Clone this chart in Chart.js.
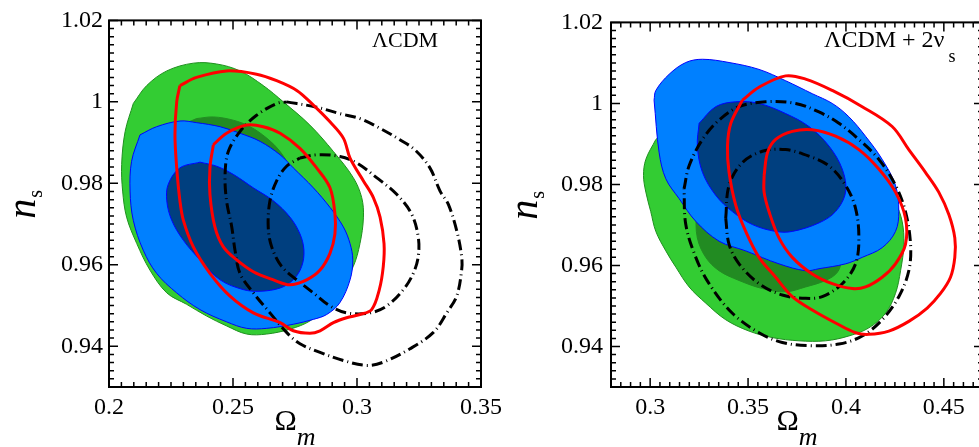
<!DOCTYPE html>
<html>
<head>
<meta charset="utf-8">
<script src="https://cdn.jsdelivr.net/npm/chart.js@4.4.0/dist/chart.umd.min.js"></script>
<style>
  body { margin: 0; background: #fff; overflow: hidden; width: 979px; height: 447px; position: relative; }
  canvas { position: absolute; top: 0; }
  #left { left: 0; }
  #right { left: 500px; }
</style>
</head>
<body>
<canvas id="left" width="520" height="447"></canvas>
<canvas id="right" width="500" height="447"></canvas>
<script>
// ---- axis ticks ----
const xTicksL = [0.2, 0.25, 0.3, 0.35];
const xTicksR = [0.3, 0.35, 0.4, 0.45];
const yTicks = [0.94, 0.96, 0.98, 1, 1.02];

// ---- LCDM panel: contours as [Omega_m, n_s] ----
const greenOuterL = [[0.2098,0.9996],[0.2152,1.0040],[0.2233,1.0076],[0.2340,1.0095],[0.2434,1.0093],[0.2528,1.0076],[0.2622,1.0040],[0.2703,1.0000],[0.2810,0.9943],[0.2905,0.9878],[0.2985,0.9814],[0.3019,0.9765],[0.3026,0.9717],[0.3012,0.9652],[0.2985,0.9596],[0.2931,0.9539],[0.2871,0.9495],[0.2810,0.9462],[0.2730,0.9442],[0.2636,0.9430],[0.2555,0.9430],[0.2474,0.9450],[0.2394,0.9474],[0.2313,0.9503],[0.2233,0.9531],[0.2165,0.9587],[0.2112,0.9652],[0.2071,0.9717],[0.2055,0.9781],[0.2051,0.9846],[0.2065,0.9927]];
const greenInnerL = [[0.2353,0.9959],[0.2421,0.9963],[0.2501,0.9955],[0.2569,0.9939],[0.2636,0.9911],[0.2690,0.9878],[0.2730,0.9838],[0.2770,0.9773],[0.2770,0.9684],[0.2703,0.9604],[0.2582,0.9563],[0.2421,0.9571],[0.2286,0.9620],[0.2206,0.9701],[0.2179,0.9798],[0.2206,0.9878],[0.2273,0.9935]];
const blueOuterL = [[0.2125,0.9919],[0.2192,0.9939],[0.2286,0.9953],[0.2353,0.9949],[0.2448,0.9939],[0.2528,0.9923],[0.2609,0.9903],[0.2690,0.9870],[0.2743,0.9838],[0.2824,0.9789],[0.2891,0.9741],[0.2945,0.9693],[0.2972,0.9652],[0.2983,0.9612],[0.2972,0.9563],[0.2931,0.9507],[0.2878,0.9478],[0.2824,0.9466],[0.2743,0.9454],[0.2636,0.9444],[0.2555,0.9444],[0.2474,0.9460],[0.2367,0.9490],[0.2273,0.9531],[0.2192,0.9579],[0.2138,0.9636],[0.2098,0.9709],[0.2085,0.9781],[0.2091,0.9854]];
const blueInnerL = [[0.2367,0.9852],[0.2286,0.9838],[0.2239,0.9798],[0.2233,0.9757],[0.2253,0.9709],[0.2300,0.9660],[0.2367,0.9612],[0.2448,0.9563],[0.2542,0.9539],[0.2609,0.9535],[0.2690,0.9543],[0.2743,0.9563],[0.2777,0.9596],[0.2786,0.9636],[0.2770,0.9676],[0.2730,0.9717],[0.2663,0.9757],[0.2582,0.9789],[0.2501,0.9822],[0.2434,0.9842]];
const redOuterL = [[0.2286,1.0040],[0.2353,1.0060],[0.2474,1.0076],[0.2595,1.0068],[0.2676,1.0052],[0.2757,1.0028],[0.2824,0.9992],[0.2891,0.9951],[0.2945,0.9911],[0.2972,0.9862],[0.3026,0.9806],[0.3066,0.9765],[0.3093,0.9717],[0.3109,0.9652],[0.3106,0.9596],[0.3090,0.9539],[0.3059,0.9490],[0.3012,0.9478],[0.2958,0.9470],[0.2905,0.9458],[0.2851,0.9438],[0.2810,0.9432],[0.2743,0.9438],[0.2690,0.9458],[0.2582,0.9482],[0.2488,0.9523],[0.2407,0.9579],[0.2340,0.9644],[0.2300,0.9709],[0.2286,0.9757],[0.2273,0.9838],[0.2266,0.9919],[0.2273,1.0000]];
const redInnerL = [[0.2421,0.9895],[0.2474,0.9923],[0.2555,0.9943],[0.2622,0.9939],[0.2690,0.9923],[0.2770,0.9886],[0.2837,0.9838],[0.2891,0.9789],[0.2911,0.9725],[0.2911,0.9676],[0.2891,0.9628],[0.2851,0.9587],[0.2797,0.9563],[0.2730,0.9551],[0.2663,0.9563],[0.2582,0.9583],[0.2515,0.9612],[0.2461,0.9644],[0.2427,0.9693],[0.2407,0.9773],[0.2407,0.9838]];
const blackOuterL = [[0.2716,1.0000],[0.2837,0.9987],[0.2931,0.9971],[0.3012,0.9959],[0.3093,0.9935],[0.3173,0.9907],[0.3234,0.9882],[0.3294,0.9838],[0.3335,0.9781],[0.3368,0.9749],[0.3402,0.9684],[0.3422,0.9620],[0.3422,0.9587],[0.3402,0.9523],[0.3362,0.9482],[0.3308,0.9434],[0.3214,0.9394],[0.3106,0.9361],[0.3039,0.9353],[0.2945,0.9365],[0.2851,0.9385],[0.2770,0.9406],[0.2716,0.9434],[0.2649,0.9482],[0.2582,0.9531],[0.2528,0.9579],[0.2508,0.9636],[0.2495,0.9693],[0.2474,0.9757],[0.2468,0.9822],[0.2481,0.9878],[0.2528,0.9927],[0.2595,0.9967],[0.2676,0.9996]];
const blackInnerL = [[0.2770,0.9862],[0.2837,0.9870],[0.2931,0.9866],[0.2999,0.9850],[0.3079,0.9814],[0.3160,0.9773],[0.3220,0.9725],[0.3247,0.9668],[0.3247,0.9620],[0.3227,0.9579],[0.3187,0.9539],[0.3120,0.9499],[0.3052,0.9482],[0.2958,0.9482],[0.2891,0.9499],[0.2824,0.9531],[0.2757,0.9563],[0.2696,0.9596],[0.2656,0.9644],[0.2642,0.9693],[0.2649,0.9757],[0.2676,0.9806],[0.2716,0.9842]];

// ---- LCDM + 2 nu_s panel ----
const greenOuterR = [[0.3029,0.9911],[0.2978,0.9862],[0.2966,0.9822],[0.2978,0.9781],[0.3003,0.9733],[0.3029,0.9684],[0.3080,0.9636],[0.3131,0.9596],[0.3199,0.9547],[0.3284,0.9507],[0.3386,0.9466],[0.3505,0.9438],[0.3624,0.9422],[0.3760,0.9414],[0.3896,0.9414],[0.4015,0.9426],[0.4117,0.9446],[0.4202,0.9482],[0.4253,0.9531],[0.4279,0.9587],[0.4296,0.9652],[0.4287,0.9709],[0.4253,0.9757],[0.4185,0.9830],[0.4015,0.9886],[0.3760,0.9935],[0.3505,0.9967],[0.3250,0.9959],[0.3114,0.9943]];
const greenInnerR = [[0.3233,0.9733],[0.3241,0.9668],[0.3284,0.9620],[0.3352,0.9587],[0.3454,0.9563],[0.3573,0.9543],[0.3692,0.9535],[0.3794,0.9547],[0.3896,0.9563],[0.3956,0.9583],[0.3973,0.9612],[0.3930,0.9668],[0.3845,0.9717],[0.3675,0.9757],[0.3505,0.9773],[0.3335,0.9765]];
const blueOuterR = [[0.3020,1.0008],[0.3029,1.0032],[0.3097,1.0072],[0.3182,1.0101],[0.3267,1.0109],[0.3403,1.0101],[0.3556,1.0084],[0.3692,1.0056],[0.3828,1.0024],[0.3930,1.0000],[0.4015,0.9967],[0.4100,0.9919],[0.4185,0.9862],[0.4253,0.9798],[0.4270,0.9733],[0.4253,0.9684],[0.4185,0.9644],[0.4083,0.9620],[0.3998,0.9604],[0.3862,0.9592],[0.3794,0.9587],[0.3658,0.9604],[0.3488,0.9636],[0.3352,0.9660],[0.3233,0.9709],[0.3148,0.9765],[0.3080,0.9814],[0.3046,0.9878]];
const blueInnerR = [[0.3250,0.9951],[0.3335,0.9992],[0.3437,1.0004],[0.3556,1.0000],[0.3692,0.9975],[0.3811,0.9943],[0.3913,0.9895],[0.3981,0.9838],[0.3998,0.9781],[0.3947,0.9733],[0.3862,0.9705],[0.3726,0.9684],[0.3641,0.9684],[0.3522,0.9701],[0.3420,0.9733],[0.3335,0.9773],[0.3267,0.9830],[0.3241,0.9895]];
const redOuterR = [[0.3471,1.0008],[0.3556,1.0040],[0.3692,1.0068],[0.3794,1.0060],[0.3930,1.0032],[0.4083,0.9992],[0.4236,0.9943],[0.4321,0.9886],[0.4406,0.9830],[0.4474,0.9781],[0.4526,0.9725],[0.4556,0.9668],[0.4556,0.9620],[0.4534,0.9571],[0.4483,0.9531],[0.4415,0.9495],[0.4321,0.9462],[0.4219,0.9438],[0.4117,0.9430],[0.4049,0.9434],[0.3947,0.9458],[0.3828,0.9490],[0.3726,0.9523],[0.3641,0.9571],[0.3556,0.9620],[0.3488,0.9684],[0.3437,0.9749],[0.3403,0.9830],[0.3395,0.9895],[0.3412,0.9951]];
const redInnerR = [[0.3582,0.9822],[0.3599,0.9878],[0.3641,0.9911],[0.3726,0.9931],[0.3828,0.9935],[0.3947,0.9919],[0.4066,0.9886],[0.4168,0.9838],[0.4253,0.9781],[0.4304,0.9717],[0.4304,0.9652],[0.4253,0.9604],[0.4185,0.9571],[0.4100,0.9547],[0.4032,0.9543],[0.3930,0.9555],[0.3828,0.9579],[0.3726,0.9620],[0.3658,0.9668],[0.3607,0.9733],[0.3582,0.9781]];
const blackOuterR = [[0.3173,0.9789],[0.3199,0.9846],[0.3267,0.9911],[0.3352,0.9959],[0.3454,0.9992],[0.3590,1.0004],[0.3743,1.0000],[0.3862,0.9979],[0.3964,0.9951],[0.4066,0.9911],[0.4168,0.9862],[0.4253,0.9798],[0.4304,0.9733],[0.4330,0.9652],[0.4321,0.9587],[0.4270,0.9523],[0.4185,0.9466],[0.4083,0.9426],[0.3964,0.9406],[0.3811,0.9402],[0.3675,0.9410],[0.3556,0.9434],[0.3420,0.9482],[0.3301,0.9555],[0.3233,0.9620],[0.3182,0.9701]];
const blackInnerR = [[0.3386,0.9717],[0.3403,0.9798],[0.3471,0.9854],[0.3573,0.9882],[0.3692,0.9886],[0.3811,0.9870],[0.3913,0.9846],[0.3998,0.9798],[0.4049,0.9741],[0.4066,0.9668],[0.4049,0.9604],[0.3981,0.9555],[0.3879,0.9523],[0.3794,0.9519],[0.3675,0.9527],[0.3556,0.9555],[0.3454,0.9604],[0.3403,0.9652]];

const GREEN = '#33cc33', DKGREEN = '#228b22', BLUE = '#0080ff', NAVY = '#003f7f';
const DASH = [11, 4, 1, 4];
const SERIF = '"Liberation Serif", "Times New Roman", serif';

function closed(pts) {
  return pts.concat([pts[0]]).map(p => ({ x: p[0], y: p[1] }));
}

function filled(pts, fillColor, edge, order) {
  return {
    data: closed(pts), showLine: true, fill: 'shape',
    backgroundColor: fillColor, borderColor: edge, borderWidth: 1,
    pointRadius: 0, tension: 0.35, order: order
  };
}

function outline(pts, color, dash, order) {
  return {
    data: closed(pts), showLine: true, fill: false,
    borderColor: color, borderWidth: 3, borderDash: dash || [],
    pointRadius: 0, tension: 0.35, order: order
  };
}

// frame, inward ticks, axis titles and panel label
const framePlugin = {
  id: 'frame',
  afterDraw(chart, args, opts) {
    const { ctx, chartArea: a, scales: { x, y } } = chart;
    ctx.save();
    ctx.strokeStyle = '#000';
    ctx.lineWidth = 2;
    ctx.strokeRect(a.left, a.top, a.right - a.left, a.bottom - a.top);

    ctx.lineWidth = 1.5;
    ctx.beginPath();
    let n = Math.round((x.max - x.min) / opts.xMinor);
    for (let i = 0; i <= n; i++) {
      const v = x.min + i * opts.xMinor;
      const px = x.getPixelForValue(v);
      const len = x.ticks.some(t => Math.abs(t.value - v) < 1e-6) ? 9 : 5;
      ctx.moveTo(px, a.bottom); ctx.lineTo(px, a.bottom - len);
      ctx.moveTo(px, a.top); ctx.lineTo(px, a.top + len);
    }
    n = Math.round((y.max - y.min) / opts.yMinor);
    for (let i = 0; i <= n; i++) {
      const v = y.min + i * opts.yMinor;
      const py = y.getPixelForValue(v);
      const len = y.ticks.some(t => Math.abs(t.value - v) < 1e-6) ? 9 : 5;
      ctx.moveTo(a.left, py); ctx.lineTo(a.left + len, py);
      ctx.moveTo(a.right, py); ctx.lineTo(a.right - len, py);
    }
    ctx.stroke();

    ctx.fillStyle = '#000';
    ctx.textAlign = 'left';
    ctx.textBaseline = 'alphabetic';

    // panel label
    ctx.font = opts.labelSize + 'px ' + SERIF;
    ctx.fillText(opts.label, opts.labelX, 47);
    if (opts.labelSub) {
      const w = ctx.measureText(opts.label).width;
      ctx.font = '18px ' + SERIF;
      ctx.fillText(opts.labelSub, opts.labelX + w + 4, 62);
    }

    // x title: Omega_m
    const cx = (a.left + a.right) / 2;
    ctx.font = '30px ' + SERIF;
    const wO = ctx.measureText('Ω').width;
    ctx.font = 'italic 26px ' + SERIF;
    const wm = ctx.measureText('m').width;
    const x0 = cx - (wO + wm) / 2;
    ctx.font = '30px ' + SERIF;
    ctx.fillText('Ω', x0, 430);
    ctx.font = 'italic 26px ' + SERIF;
    ctx.fillText('m', x0 + wO, 445);

    // y title: n_s
    ctx.translate(a.left - 74, (a.top + a.bottom) / 2 + 15);
    ctx.rotate(-Math.PI / 2);
    ctx.font = 'italic 40px ' + SERIF;
    ctx.fillText('n', 0, 0);
    const wn = ctx.measureText('n').width;
    ctx.font = '20px ' + SERIF;
    ctx.fillText('s', wn + 1, 7);
    ctx.restore();
  }
};

const tickFont = { family: SERIF, size: 24 };
const fmt = v => String(+v.toFixed(3));

function makeChart(id, sets, xr, xTicks, padRight, yWidth, frameOpts) {
  return new Chart(document.getElementById(id), {
    type: 'scatter',
    data: { datasets: sets },
    options: {
      responsive: false,
      animation: false,
      devicePixelRatio: 1,
      layout: { padding: { top: 14, right: padRight, left: 0, bottom: 0 } },
      plugins: { legend: { display: false }, tooltip: { enabled: false }, frame: frameOpts },
      scales: {
        x: {
          type: 'linear', min: xr[0], max: xr[1],
          afterBuildTicks: s => { s.ticks = xTicks.map(v => ({ value: v })); },
          afterFit: s => { s.height = 60; },
          grid: { display: false, drawTicks: false },
          border: { display: false },
          ticks: { font: tickFont, color: '#000', padding: 6, maxRotation: 0, autoSkip: false, callback: fmt }
        },
        y: {
          type: 'linear', min: 0.93, max: 1.02,
          afterBuildTicks: s => { s.ticks = yTicks.map(v => ({ value: v })); },
          afterFit: s => { s.width = yWidth; },
          grid: { display: false, drawTicks: false },
          border: { display: false },
          ticks: { font: tickFont, color: '#000', padding: frameOpts.yPad, autoSkip: false, callback: fmt }
        }
      }
    },
    plugins: [framePlugin]
  });
}

makeChart('left', [
  outline(redOuterL, '#ff0000', null, 0),
  outline(redInnerL, '#ff0000', null, 0),
  outline(blackOuterL, '#000', DASH, 0),
  outline(blackInnerL, '#000', DASH, 0),
  filled(blueInnerL, NAVY, '#0000ff', 1),
  filled(blueOuterL, BLUE, '#0000ff', 2),
  filled(greenInnerL, DKGREEN, DKGREEN, 3),
  filled(greenOuterL, GREEN, '#1f8f1f', 4)
], [0.2, 0.35], xTicksL, 39, 109,
  { xMinor: 0.005, yMinor: 0.002, label: 'ΛCDM', labelSize: 22, labelX: 372, yPad: 6 });

makeChart('right', [
  outline(redOuterR, '#ff0000', null, 0),
  outline(redInnerR, '#ff0000', null, 0),
  outline(blackOuterR, '#000', DASH, 0),
  outline(blackInnerR, '#000', DASH, 0),
  filled(blueInnerR, NAVY, '#0000ff', 1),
  filled(blueOuterR, BLUE, '#0000ff', 2),
  filled(greenInnerR, DKGREEN, DKGREEN, 3),
  filled(greenOuterR, GREEN, '#1f8f1f', 4)
], [0.28, 0.47], xTicksR, 17, 111,
  { xMinor: 0.005, yMinor: 0.002, label: 'ΛCDM + 2ν', labelSub: 's', labelSize: 24, labelX: 324, yPad: 8 });
</script>
</body>
</html>
